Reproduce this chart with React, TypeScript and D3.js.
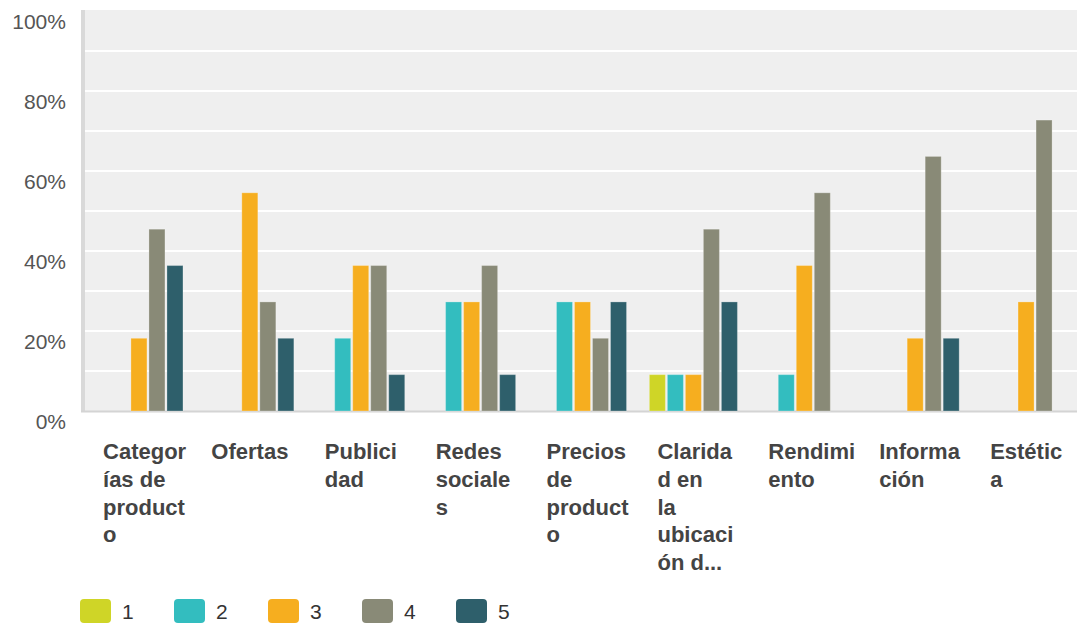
import React from "react";
import * as d3 from "d3";

const categories = [
  "Categorías de producto",
  "Ofertas",
  "Publicidad",
  "Redes sociales",
  "Precios de producto",
  "Claridad en la ubicación d...",
  "Rendimiento",
  "Información",
  "Estética",
];

// label lines as wrapped in the reference
const categoryLines = [
  ["Categor", "ías de", "product", "o"],
  ["Ofertas"],
  ["Publici", "dad"],
  ["Redes", "sociale", "s"],
  ["Precios", "de", "product", "o"],
  ["Clarida", "d en", "la", "ubicaci", "ón d..."],
  ["Rendimi", "ento"],
  ["Informa", "ción"],
  ["Estétic", "a"],
];

const seriesNames = ["1", "2", "3", "4", "5"];
const seriesColors = ["#cfd527", "#33bdbf", "#f6ae1f", "#898a77", "#2e5f6b"];

const series1 = [0, 0, 0, 0, 0, 9.09, 0, 0, 0];
const series2 = [0, 0, 18.18, 27.27, 27.27, 9.09, 9.09, 0, 0];
const series3 = [18.18, 54.55, 36.36, 27.27, 27.27, 9.09, 36.36, 18.18, 27.27];
const series4 = [45.45, 27.27, 36.36, 36.36, 18.18, 45.45, 54.55, 63.64, 72.73];
const series5 = [36.36, 18.18, 9.09, 9.09, 27.27, 27.27, 0, 18.18, 0];
const seriesValues = [series1, series2, series3, series4, series5];

const yTicks = [0, 20, 40, 60, 80, 100];
const gridTicks = [10, 20, 30, 40, 50, 60, 70, 80, 90];

const W = 1077;
const H = 623;

export default function App() {
  const left = 83.5;
  const right = 1081.5;
  const top = 11;
  const bottom = 411;

  const x0 = d3
    .scaleBand<string>()
    .domain(categories)
    .range([left, right])
    .paddingInner(0.188)
    .paddingOuter(0.094);
  const x1 = d3
    .scaleBand<string>()
    .domain(seriesNames)
    .range([0, x0.bandwidth()])
    .paddingInner(0.111)
    .paddingOuter(0.0555);
  const y = d3.scaleLinear().domain([0, 100]).range([bottom, top]);

  const labelFont = "'Liberation Sans', Arial, sans-serif";

  return (
    <svg
      width={W}
      height={H}
      style={{ position: "absolute", left: 0, top: 0, display: "block", background: "#fff" }}
    >
      {/* plot background */}
      <rect x={81} y={10} width={W - 81} height={bottom - 10} fill="#efefef" />
      {/* grid */}
      {gridTicks.map((t) => (
        <line
          key={t}
          x1={85}
          x2={W}
          y1={y(t)}
          y2={y(t)}
          stroke="#ffffff"
          strokeWidth={2}
        />
      ))}
      {/* left axis */}
      <rect x={81} y={10} width={4} height={bottom - 10 + 1} fill="#d9d9d9" />
      {/* bottom axis */}
      <rect x={81} y={bottom - 0.5} width={W - 81} height={2} fill="#d4d4d4" />

      {/* bars */}
      {categories.map((c, ci) => (
        <g key={c} transform={`translate(${x0(c)},0)`}>
          {seriesNames.map((s, si) => {
            const v = seriesValues[si][ci];
            if (!v) return null;
            return (
              <rect
                key={s}
                x={x1(s)}
                y={y(v)}
                width={x1.bandwidth()}
                height={y(0) - y(v)}
                fill={seriesColors[si]}
                stroke="rgba(255,255,255,0.25)"
                strokeWidth={1}
              />
            );
          })}
        </g>
      ))}

      {/* y labels */}
      {yTicks.map((t) => (
        <text
          key={t}
          x={66}
          y={y(t) + 10}
          textAnchor="end"
          dominantBaseline="central"
          fontFamily={labelFont}
          fontSize={21}
          fill="#555"
        >
          {t}%
        </text>
      ))}

      {/* category labels */}
      {categories.map((c, ci) => {
        const lines = categoryLines[ci];
        const bx = x0(c)! - 10.4;
        const single = lines.length === 1;
        const tx = single ? bx + x0.step() / 2 : bx + 19.5;
        return (
          <text
            key={c}
            x={tx}
            y={459}
            textAnchor={single ? "middle" : "start"}
            fontFamily={labelFont}
            fontWeight="bold"
            fontSize={22}
            fill="#444"
          >
            {lines.map((l, li) => (
              <tspan key={li} x={tx} dy={li === 0 ? 0 : 27.75}>
                {l}
              </tspan>
            ))}
          </text>
        );
      })}

      {/* legend */}
      {seriesNames.map((s, si) => {
        const lx = 80 + si * 94;
        return (
          <g key={s}>
            <rect x={lx} y={599} width={31} height={24} rx={4} fill={seriesColors[si]} />
            <text
              x={lx + 42}
              y={611}
              dominantBaseline="central"
              fontFamily={labelFont}
              fontSize={21}
              fill="#333"
            >
              {s}
            </text>
          </g>
        );
      })}
    </svg>
  );
}
